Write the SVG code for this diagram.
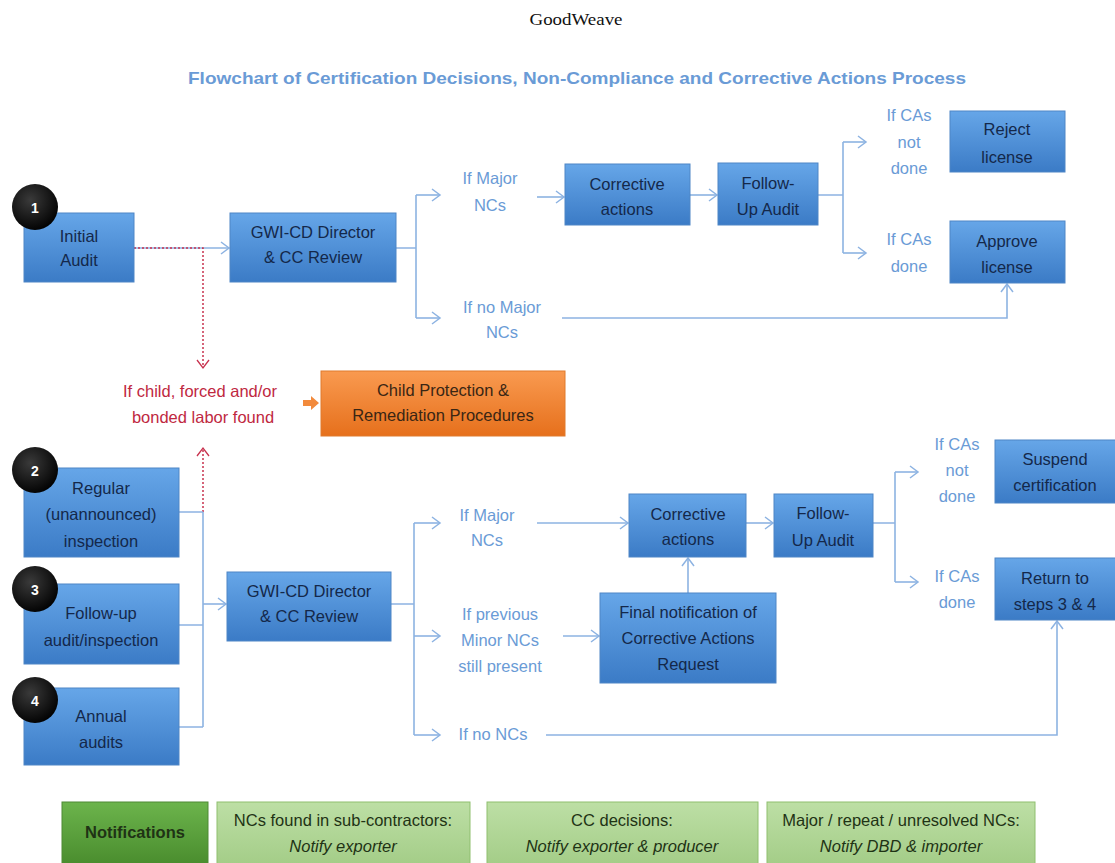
<svg xmlns="http://www.w3.org/2000/svg" width="1115" height="863" viewBox="0 0 1115 863">
<defs>
<linearGradient id="gBlue" x1="0" y1="0" x2="0" y2="1"><stop offset="0" stop-color="#66a6e8"/><stop offset="1" stop-color="#3b7bc6"/></linearGradient>
<linearGradient id="gOrange" x1="0" y1="0" x2="0" y2="1"><stop offset="0" stop-color="#f99a50"/><stop offset="1" stop-color="#e6701c"/></linearGradient>
<linearGradient id="gDark" x1="0" y1="0" x2="0" y2="1"><stop offset="0" stop-color="#6cb44c"/><stop offset="1" stop-color="#4a8d2e"/></linearGradient>
<linearGradient id="gLight" x1="0" y1="0" x2="0" y2="1"><stop offset="0" stop-color="#bddfa5"/><stop offset="1" stop-color="#a4cd88"/></linearGradient>
<radialGradient id="gCircle" cx="0.4" cy="0.35" r="0.7"><stop offset="0" stop-color="#3a3a3a"/><stop offset="1" stop-color="#000"/></radialGradient>
<marker id="aBlue" markerWidth="12" markerHeight="14" refX="10" refY="7" orient="auto" markerUnits="userSpaceOnUse"><path d="M2,1 L10,7 L2,13" fill="none" stroke="#8db3e2" stroke-width="1.5"/></marker>
<marker id="aRed" markerWidth="12" markerHeight="14" refX="10" refY="7" orient="auto" markerUnits="userSpaceOnUse"><path d="M2,1 L10,7 L2,13" fill="none" stroke="#c8324e" stroke-width="1.3"/></marker>
</defs>
<style>
.box{fill:url(#gBlue);stroke:#4f86c6;stroke-width:1}
.bt{font-family:"Liberation Sans",Arial,sans-serif;font-size:16.5px;fill:#14284a;text-anchor:middle}
.lb{font-family:"Liberation Sans",Arial,sans-serif;font-size:16.5px;fill:#6a9bd6;text-anchor:middle}
.rd{font-family:"Liberation Sans",Arial,sans-serif;font-size:16.5px;fill:#c0283f;text-anchor:middle}
.num{font-family:"Liberation Sans",Arial,sans-serif;font-size:14px;font-weight:bold;fill:#fff;text-anchor:middle}
.con{fill:none;stroke:#8db3e2;stroke-width:1.6}
.arr{marker-end:url(#aBlue)}
.red{fill:none;stroke:#c8324e;stroke-width:1.5;stroke-dasharray:2,2;marker-end:url(#aRed)}
.nt{font-family:"Liberation Sans",Arial,sans-serif;font-size:16.5px;fill:#1f3315;text-anchor:middle}
</style>
<rect width="1115" height="863" fill="#fff"/>
<text x="576" y="25" font-family="Liberation Serif,Times New Roman,serif" font-size="16" text-anchor="middle" fill="#111" textLength="93" lengthAdjust="spacingAndGlyphs">GoodWeave</text>
<text x="577" y="84" font-family="Liberation Sans,Arial,sans-serif" font-size="17" font-weight="bold" text-anchor="middle" fill="#6a9bd6" textLength="778" lengthAdjust="spacingAndGlyphs">Flowchart of Certification Decisions, Non-Compliance and Corrective Actions Process</text>

<g id="connectors">
<path class="con arr" d="M134,248 H229"/>
<path class="con" d="M396,248 H416 M416,195 V318"/>
<path class="con arr" d="M416,195 H440"/>
<path class="con arr" d="M416,318 H440"/>
<path class="con arr" d="M537,197 H564"/>
<path class="con arr" d="M690,195 H717"/>
<path class="con" d="M818,195 H843 M843,142 V253"/>
<path class="con arr" d="M843,142 H866"/>
<path class="con arr" d="M843,253 H866"/>
<path class="con arr" d="M562,318 H1007 V284"/>
<path class="red" d="M134,248 H203 V368"/>
<path class="red" d="M203,512 V448"/>
<path d="M303,400 H311 V396 L319,403 L311,410 V406 H303 Z" fill="#f28a3c"/>
<path class="con" d="M179,512 H203 M179,625 H203 M179,727 H203 M203,512 V727"/>
<path class="con arr" d="M203,604 H226"/>
<path class="con" d="M391,604 H414 M414,523 V735"/>
<path class="con arr" d="M414,523 H440"/>
<path class="con arr" d="M414,636 H440"/>
<path class="con arr" d="M414,735 H440"/>
<path class="con arr" d="M537,523 H628"/>
<path class="con arr" d="M746,523 H773"/>
<path class="con" d="M873,523 H895 M895,472 V582"/>
<path class="con arr" d="M895,472 H918"/>
<path class="con arr" d="M895,582 H918"/>
<path class="con arr" d="M563,636 H599"/>
<path class="con arr" d="M688,593 V558"/>
<path class="con arr" d="M546,735 H1057 V621"/>
</g>

<g id="n1"><rect class="box" x="24" y="213" width="110" height="69"/><text class="bt" x="79" y="242">Initial</text><text class="bt" x="79" y="266">Audit</text><circle cx="35" cy="207" r="23" fill="url(#gCircle)"/><text class="num" x="35" y="213">1</text></g>
<g id="gwi1"><rect class="box" x="230" y="213" width="166" height="69"/><text class="bt" x="313" y="238">GWI-CD Director</text><text class="bt" x="313" y="263">&amp; CC Review</text></g>
<g id="lbl-major1"><text class="lb" x="490" y="184">If Major</text><text class="lb" x="490" y="211">NCs</text></g>
<g id="lbl-nomajor1"><text class="lb" x="502" y="313">If no Major</text><text class="lb" x="502" y="338">NCs</text></g>
<g id="ca1"><rect class="box" x="565" y="164" width="125" height="61"/><text class="bt" x="627" y="190">Corrective</text><text class="bt" x="627" y="215">actions</text></g>
<g id="fu1"><rect class="box" x="718" y="163" width="100" height="62"/><text class="bt" x="768" y="189">Follow-</text><text class="bt" x="768" y="215">Up Audit</text></g>
<g id="lbl-notdone1"><text class="lb" x="909" y="121">If CAs</text><text class="lb" x="909" y="148">not</text><text class="lb" x="909" y="174">done</text></g>
<g id="lbl-done1"><text class="lb" x="909" y="245">If CAs</text><text class="lb" x="909" y="272">done</text></g>
<g id="reject"><rect class="box" x="950" y="111" width="115" height="61"/><text class="bt" x="1007" y="135">Reject</text><text class="bt" x="1007" y="163">license</text></g>
<g id="approve"><rect class="box" x="950" y="221" width="115" height="62"/><text class="bt" x="1007" y="247">Approve</text><text class="bt" x="1007" y="273">license</text></g>

<g id="lbl-child"><text class="rd" x="200" y="397">If child, forced and/or</text><text class="rd" x="203" y="423">bonded labor found</text></g>
<g id="cp"><rect x="321" y="371" width="244" height="65" fill="url(#gOrange)" stroke="#e07a2c"/><text class="bt" x="443" y="396" fill="#3a2614" style="fill:#3a2614">Child Protection &amp;</text><text class="bt" x="443" y="421" style="fill:#3a2614">Remediation Procedures</text></g>

<g id="n2"><rect class="box" x="24" y="468" width="155" height="89"/><text class="bt" x="101" y="494">Regular</text><text class="bt" x="101" y="520">(unannounced)</text><text class="bt" x="101" y="547">inspection</text><circle cx="35" cy="470" r="23" fill="url(#gCircle)"/><text class="num" x="35" y="476">2</text></g>
<g id="n3"><rect class="box" x="24" y="584" width="155" height="80"/><text class="bt" x="101" y="619">Follow-up</text><text class="bt" x="101" y="646">audit/inspection</text><circle cx="35" cy="589" r="23" fill="url(#gCircle)"/><text class="num" x="35" y="595">3</text></g>
<g id="n4"><rect class="box" x="24" y="688" width="155" height="77"/><text class="bt" x="101" y="722">Annual</text><text class="bt" x="101" y="748">audits</text><circle cx="35" cy="700" r="23" fill="url(#gCircle)"/><text class="num" x="35" y="706">4</text></g>
<g id="gwi2"><rect class="box" x="227" y="572" width="164" height="69"/><text class="bt" x="309" y="597">GWI-CD Director</text><text class="bt" x="309" y="622">&amp; CC Review</text></g>
<g id="lbl-major2"><text class="lb" x="487" y="521">If Major</text><text class="lb" x="487" y="546">NCs</text></g>
<g id="lbl-prev"><text class="lb" x="500" y="620">If previous</text><text class="lb" x="500" y="646">Minor NCs</text><text class="lb" x="500" y="672">still present</text></g>
<g id="lbl-nonc"><text class="lb" x="493" y="740">If no NCs</text></g>
<g id="ca2"><rect class="box" x="629" y="494" width="117" height="63"/><text class="bt" x="688" y="520">Corrective</text><text class="bt" x="688" y="545">actions</text></g>
<g id="fu2"><rect class="box" x="774" y="494" width="99" height="63"/><text class="bt" x="823" y="519">Follow-</text><text class="bt" x="823" y="546">Up Audit</text></g>
<g id="final"><rect class="box" x="600" y="593" width="176" height="90"/><text class="bt" x="688" y="618">Final notification of</text><text class="bt" x="688" y="644">Corrective Actions</text><text class="bt" x="688" y="670">Request</text></g>
<g id="lbl-notdone2"><text class="lb" x="957" y="450">If CAs</text><text class="lb" x="957" y="476">not</text><text class="lb" x="957" y="502">done</text></g>
<g id="lbl-done2"><text class="lb" x="957" y="582">If CAs</text><text class="lb" x="957" y="608">done</text></g>
<g id="suspend"><rect class="box" x="995" y="440" width="121" height="63"/><text class="bt" x="1055" y="465">Suspend</text><text class="bt" x="1055" y="491">certification</text></g>
<g id="return"><rect class="box" x="995" y="558" width="121" height="62"/><text class="bt" x="1055" y="584">Return to</text><text class="bt" x="1055" y="610">steps 3 &amp; 4</text></g>

<g id="notif"><rect x="62" y="802" width="146" height="62" fill="url(#gDark)" stroke="#4f8a35"/><text class="nt" x="135" y="838" font-weight="bold">Notifications</text></g>
<g id="notif1"><rect x="217" y="802" width="253" height="62" fill="url(#gLight)" stroke="#8fbf6f"/><text class="nt" x="343" y="826">NCs found in sub-contractors:</text><text class="nt" x="343" y="852" font-style="italic">Notify exporter</text></g>
<g id="notif2"><rect x="487" y="802" width="271" height="62" fill="url(#gLight)" stroke="#8fbf6f"/><text class="nt" x="622" y="826">CC decisions:</text><text class="nt" x="622" y="852" font-style="italic">Notify exporter &amp; producer</text></g>
<g id="notif3"><rect x="767" y="802" width="268" height="62" fill="url(#gLight)" stroke="#8fbf6f"/><text class="nt" x="901" y="826">Major / repeat / unresolved NCs:</text><text class="nt" x="901" y="852" font-style="italic">Notify DBD &amp; importer</text></g>
</svg>
